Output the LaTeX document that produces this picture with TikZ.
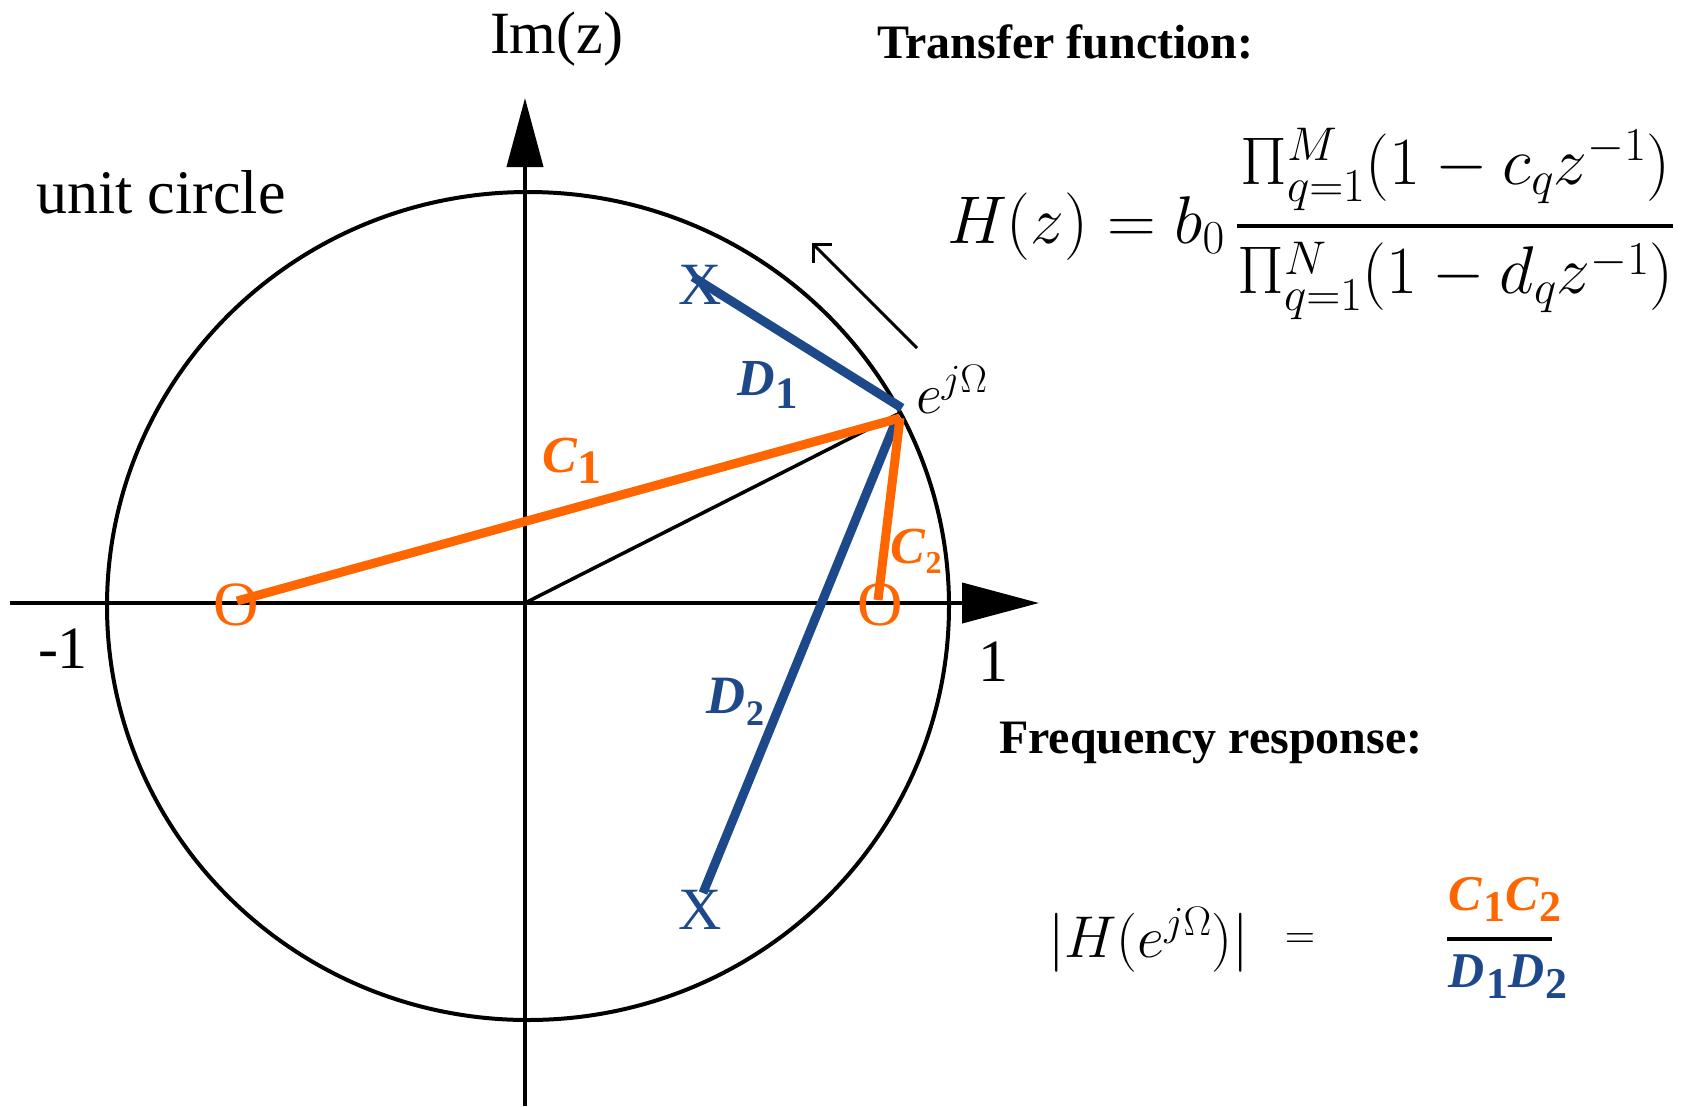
\RequirePackage{fix-cm}
\documentclass[tikz,border=0pt]{standalone}
\usepackage{amsmath}
\usepackage[no-math]{fontspec}
\setmainfont{Liberation Serif}
\usetikzlibrary{arrows.meta}
\definecolor{zorange}{RGB}{255,102,0}
\definecolor{pblue}{RGB}{29,73,139}
\newcommand\fs[1]{\fontsize{#1}{#1}\selectfont}
% letter size, letter, subscript size, subscript, drop
\newcommand\lab[5]{{\fs{#1}\bfseries\itshape #2}\kern1pt\raisebox{-#5pt}{\fs{#3}\bfseries #4}}
\begin{document}
\begin{tikzpicture}[x=1pt,y=-1pt,
  axis/.style={line width=4pt},
  ucirc/.style={line width=4pt},
  zline/.style={zorange,line width=9pt},
  pline/.style={pblue,line width=9pt},
  radline/.style={line width=3.5pt},
  txt/.style={inner sep=0pt,outer sep=0pt},
  pz/.style={txt,font=\fs{60}},
]
\useasboundingbox (0,0) rectangle (1688,1106);

% unit circle
\draw[ucirc] (528,606) ellipse [x radius=421pt, y radius=414pt];

% axes
\coordinate (xL) at (10,603);
\coordinate (xR) at (1039,603);
\coordinate (yB) at (525,1106);
\coordinate (yT) at (525,98);
\draw[axis,-{Triangle[length=77pt,width=40pt]}] (xL) -- (xR);
\draw[axis,-{Triangle[length=69pt,width=36pt]}] (yB) -- (yT);

% key points
\coordinate (O) at (525,603);
\coordinate (vO) at (900,413);
\coordinate (vD1) at (902,408);
\coordinate (vC) at (900,418);
\coordinate (vD2) at (896,421);
\coordinate (p1e) at (693,277);
\coordinate (p2e) at (703,893);
\coordinate (z1e) at (237,601);
\coordinate (z2e) at (878,600);

% radius line
\draw[radline] (O) -- (vO);

% pole vectors
\draw[pline] (p1e) -- (vD1);
\draw[pline] (vD2) -- (p2e);
% zero vectors
\draw[zline] (z1e) -- (vC);
\draw[zline] (vC) -- (z2e);

% poles and zeros
\node[pz,text=pblue] (p1) at (700,285) {X};
\node[pz,text=pblue] (p2) at (700,910) {X};
\node[pz,text=zorange,font=\fs{63}] (z1) at (236,605) {O};
\node[pz,text=zorange,font=\fs{63}] (z2) at (880,605) {O};

% direction arrow
\coordinate (sa1) at (917,348);
\coordinate (sa2) at (812,243);
\draw[line width=3pt,-{Straight Barb[length=13pt,width=26pt]}] (sa1) -- (sa2);

% axis labels
\node[txt,anchor=base west,font=\fs{60}] (im) at (490,53) {Im(z)};
\node[txt,anchor=base west,font=\fs{62}] (uc) at (36,213) {unit circle};
\node[txt,anchor=base west,font=\fs{60}] (m1) at (38,668) {-1};
\node[txt,font=\fs{60}] (p1l) at (993,662) {1};

% vector labels
\node[txt,anchor=base west,text=zorange] (lC1) at (542,472) {\lab{52}{C}{48}{1}{11}};
\node[txt,anchor=base west,text=pblue] (lD1) at (737,395) {\lab{52}{D}{45}{1}{13}};
\node[txt,anchor=base west,text=zorange] (lC2) at (890,563) {\lab{52}{C}{32}{2}{10}};
\node[txt,anchor=base west,text=pblue] (lD2) at (706,713) {\lab{54}{D}{36}{2}{12}};

% e^{j Omega}
\node[txt,anchor=base west,font=\fs{57}] (ej) at (916,413) {$e^{j\Omega}$};

% transfer function
\node[txt,anchor=base west,font=\fs{48}\bfseries] (tf) at (877,58) {Transfer function:};
\node[txt,anchor=base west,font=\fs{67.5}] (hz) at (947,243)
  {$\displaystyle H(z)=b_0\,\genfrac{}{}{4.5pt}{0}{\Pi_{q=1}^{M}(1-c_qz^{-1})}{\Pi_{q=1}^{N}(1-d_qz^{-1})}$};

% frequency response
\node[txt,anchor=base west,font=\fs{48}\bfseries] (fr) at (999,753) {Frequency response:};
\node[txt,anchor=base west,font=\fs{59}] (hm) at (1048,957) {$|H(e^{j\Omega})|$};
\node[txt,font=\fs{42}] (eq) at (1300,941) {$=$};
\node[txt,anchor=base,text=zorange] (num) at (1505,910) {\lab{50}{C}{44}{1}{11}\lab{50}{C}{44}{2}{11}};
\node[txt,anchor=base,text=pblue] (den) at (1508,987) {\lab{50}{D}{44}{1}{11}\lab{50}{D}{44}{2}{11}};
\coordinate (barL) at (1447,939);
\coordinate (barR) at (1552,939);
\draw[line width=4.5pt] (barL) -- (barR);
\end{tikzpicture}
\end{document}
